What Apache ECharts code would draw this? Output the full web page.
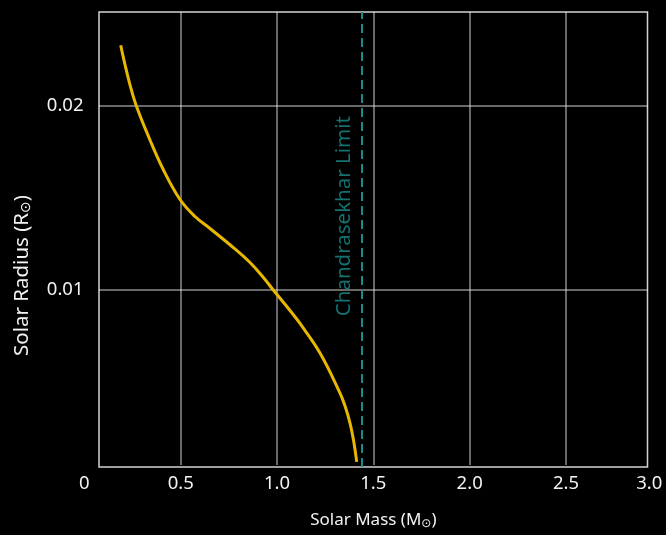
<!DOCTYPE html>
<html>
<head>
<meta charset="utf-8">
<script src="https://cdn.jsdelivr.net/npm/echarts@6/dist/echarts.min.js"></script>
<style>
html,body{margin:0;padding:0;background:#000;}
#chart{width:666px;height:535px;}
</style>
</head>
<body>
<div id="chart"></div>
<script>
// White dwarf mass-radius relation
var massData = [0.1885, 0.2108, 0.2368, 0.2679, 0.3406, 0.4081, 0.4964, 0.5742, 0.6521, 0.7559, 0.8597, 0.9376, 0.9806, 1.0673, 1.1192, 1.2231, 1.3269, 1.3530, 1.3788, 1.3969, 1.4135];
var radiusData = [0.02325, 0.02220, 0.02110, 0.02002, 0.01812, 0.01655, 0.01490, 0.01398, 0.01333, 0.01245, 0.01149, 0.01057, 0.01000, 0.00889, 0.00819, 0.00659, 0.00442, 0.00372, 0.00280, 0.00188, 0.00070];
var chandrasekharLimit = 1.44;
var limitLabel = 'Chandrasekhar Limit';
var limitLabelPos = [1.348, 0.014];
var xTickValues = [0, 0.5, 1.0, 1.5, 2.0, 2.5, 3.0];
var xTickLabels = ['0', '0.5', '1.0', '1.5', '2.0', '2.5', '3.0'];
var yTickValues = [0.01, 0.02];
var yTickLabels = ['0.01', '0.02'];
var xRange = [0.0759, 2.923];
var yRange = [0.00042, 0.02505];
var xTitle = 'Solar Mass (M{s|\u2299})';
var yTitle = 'Solar Radius (R{s|\u2299})';

var FONT = 'Noto Sans';
var TEXT = '#f2f2f2';
var TEAL = '#1a8c8c';
var GOLD = '#e8b800';
var GRIDC = 'rgba(255,255,255,0.55)';

var curve = massData.map(function (m, i) { return [m, radiusData[i]]; });

var chart = echarts.init(document.getElementById('chart'), null, {renderer: 'canvas'});
chart.setOption({
  backgroundColor: '#000',
  animation: false,
  grid: [
    {left: 99, right: 18.5, top: 12, bottom: 68, show: true, borderColor: '#d4d4d4', borderWidth: 1.5, backgroundColor: 'transparent', containLabel: false},
    {left: 84.4, right: 3.7, top: 12, bottom: 68, show: false, containLabel: false}
  ],
  xAxis: [
    {
      gridIndex: 0, type: 'value', min: xRange[0], max: xRange[1],
      axisLine: {show: false}, axisTick: {show: false}, axisLabel: {show: false}, splitLine: {show: false}
    },
    {
      gridIndex: 1, type: 'value', min: xTickValues[0], max: xTickValues[xTickValues.length - 1], interval: 0.5,
      axisLine: {show: false}, axisTick: {show: false},
      axisLabel: {
        color: TEXT, fontFamily: FONT, fontSize: 18.5, margin: 9,
        alignMaxLabel: 'right',
        formatter: function (v) { var i = xTickValues.indexOf(v); return i >= 0 ? xTickLabels[i] : ''; }
      },
      splitLine: {show: true, showMinLine: false, showMaxLine: false, lineStyle: {color: GRIDC, width: 1.5}},
      name: xTitle, nameLocation: 'middle', nameGap: 46,
      nameTextStyle: {color: TEXT, fontFamily: FONT, fontSize: 17,
        rich: {s: {fontFamily: 'DejaVu Sans', fontSize: 12, color: TEXT, verticalAlign: 'bottom', padding: [7, 0, 0, 0]}}}
    }
  ],
  yAxis: [
    {
      gridIndex: 0, type: 'value', min: yRange[0], max: yRange[1],
      axisLine: {show: false},
      axisTick: {show: false, customValues: yTickValues},
      axisLabel: {
        color: TEXT, fontFamily: FONT, fontSize: 18.5, margin: 15.5,
        customValues: yTickValues,
        formatter: function (v) {
          for (var i = 0; i < yTickValues.length; i++) { if (Math.abs(yTickValues[i] - v) < 1e-9) return yTickLabels[i]; }
          return '';
        }
      },
      splitLine: {show: true, lineStyle: {color: GRIDC, width: 1.5}},
      name: yTitle, nameLocation: 'middle', nameGap: 66, nameRotate: 90,
      nameTextStyle: {color: TEXT, fontFamily: FONT, fontSize: 20.5, padding: [0, 72, 0, 0],
        rich: {s: {fontFamily: 'DejaVu Sans', fontSize: 14, color: TEXT, verticalAlign: 'bottom', padding: [8, 0, 0, 0]}}}
    },
    {
      gridIndex: 1, type: 'value', min: yRange[0], max: yRange[1], show: false, splitLine: {show: false}
    }
  ],
  series: [
    {
      type: 'line', xAxisIndex: 0, yAxisIndex: 0, data: curve,
      smooth: 0.4, showSymbol: false, symbol: 'none',
      lineStyle: {color: GOLD, width: 3}, z: 5,
      markLine: {
        silent: true, symbol: ['none', 'none'],
        label: {show: false},
        lineStyle: {color: TEAL, width: 2, type: [9, 5]},
        data: [{xAxis: chandrasekharLimit}]
      }
    },
    {
      type: 'scatter', xAxisIndex: 0, yAxisIndex: 0, symbolSize: 0, silent: true,
      data: [limitLabelPos],
      label: {show: true, position: 'inside', rotate: 90, formatter: limitLabel,
        color: TEAL, fontFamily: FONT, fontSize: 20.5}
    }
  ]
});
</script>
</body>
</html>
